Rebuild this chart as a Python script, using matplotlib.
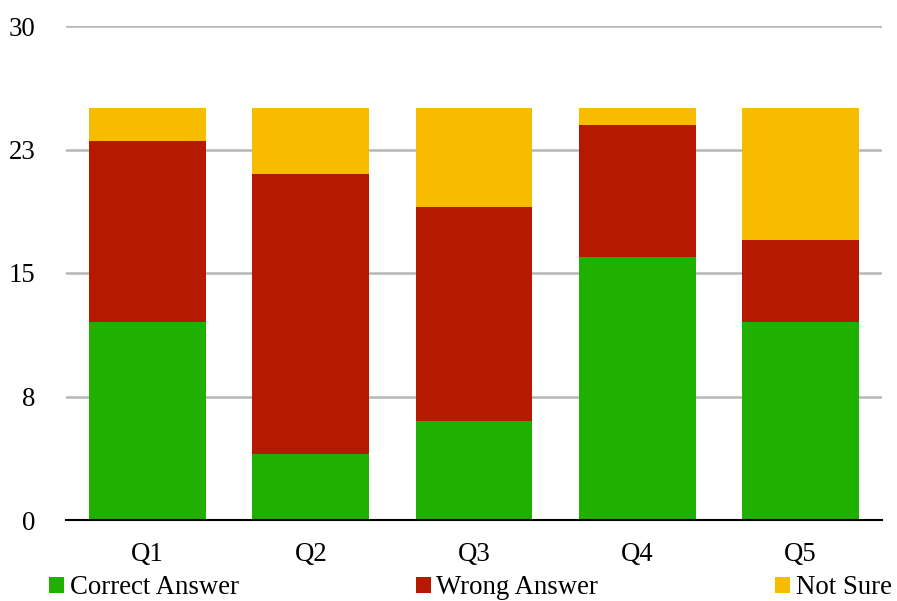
import matplotlib
matplotlib.use("Agg")
import matplotlib.pyplot as plt
from matplotlib.patches import Patch

questions = ["Q1", "Q2", "Q3", "Q4", "Q5"]
correct = [12, 4, 6, 16, 12]
wrong = [11, 17, 13, 8, 5]
not_sure = [2, 4, 6, 1, 8]

series_names = ["Correct Answer", "Wrong Answer", "Not Sure"]
colors = ["#1fb000", "#b51a00", "#f7bb00"]

ytick_vals = [0, 7.5, 15, 22.5, 30]
ytick_labels = ["0", "8", "15", "23", "30"]

plt.rcParams["font.family"] = ["Liberation Serif", "DejaVu Serif"]
FS = 19.3


def main():
    fig = plt.figure(figsize=(8.97, 6.01), dpi=100)
    ax = fig.add_axes([66 / 897, 81 / 601, 816 / 897, 494 / 601])

    x = list(range(len(questions)))
    bottom2 = [c + w for c, w in zip(correct, wrong)]
    ax.bar(x, correct, width=0.716, color=colors[0], zorder=3)
    ax.bar(x, wrong, width=0.716, bottom=correct, color=colors[1], zorder=3)
    ax.bar(x, not_sure, width=0.716, bottom=bottom2, color=colors[2], zorder=3)

    ax.set_xlim(-0.5, len(questions) - 0.5)
    ax.set_ylim(0, 30)
    ax.set_yticks(ytick_vals)
    ax.set_yticklabels(ytick_labels)
    ax.set_xticks(x)
    ax.set_xticklabels(questions)
    ax.tick_params(axis="both", length=0, labelsize=FS, colors="black")
    ax.tick_params(axis="y", pad=22)
    ax.tick_params(axis="x", pad=16)

    ax.grid(axis="y", color="#b7b7b7", linewidth=1.8, zorder=0)
    for s in ["top", "right", "left"]:
        ax.spines[s].set_visible(False)
    ax.spines["bottom"].set_color("black")
    ax.spines["bottom"].set_linewidth(1.5)
    ax.spines["bottom"].set_zorder(4)

    handles = [Patch(facecolor=c, edgecolor="none") for c in colors]
    fig.legend(handles, series_names, loc="center", ncol=3,
               bbox_to_anchor=(0.5245, 13 / 601), frameon=False,
               fontsize=FS, handlelength=0.55, handleheight=0.55,
               handletextpad=0.22, columnspacing=6.6, borderpad=0)

    fig.savefig("out.png", dpi=100)


if __name__ == "__main__":
    main()
